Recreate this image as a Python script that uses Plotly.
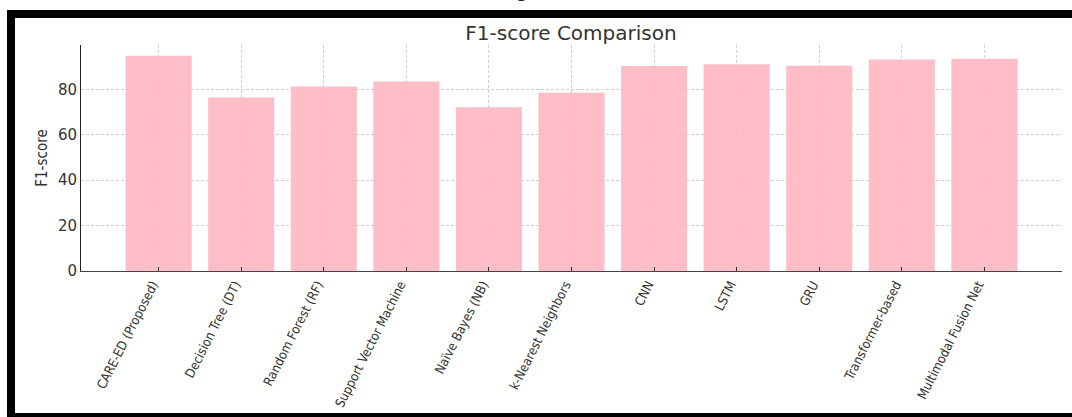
import plotly.graph_objects as go

# F1-scores of the compared emotion-detection models
models = [
    "CARE-ED (Proposed)",
    "Decision Tree (DT)",
    "Random Forest (RF)",
    "Support Vector Machine",
    "Naïve Bayes (NB)",
    "k-Nearest Neighbors",
    "CNN",
    "LSTM",
    "GRU",
    "Transformer-based",
    "Multimodal Fusion Net",
]
f1_scores = [94.8, 76.4, 81.2, 83.4, 72.1, 78.5, 90.3, 91.0, 90.4, 93.1, 93.4]
y_ticks = [0, 20, 40, 60, 80]

W, H = 1072, 417
L, R, T, B = 81, 10, 45, 146
PW, PH = W - L - R, H - T - B


def px_x(p):
    return (p - L) / PW


def px_y(p):
    return (H - B - p) / PH


fig = go.Figure(
    go.Bar(
        x=models,
        y=f1_scores,
        marker=dict(color="rgba(255,182,193,0.9)", line=dict(width=0)),
        hoverinfo="x+y",
    )
)

grid = "#cfcfcf"
cond = "DejaVu Sans Condensed, Liberation Sans Narrow, Roboto, sans-serif"
fig.update_layout(
    width=W,
    height=H,
    margin=dict(l=L, r=R, t=T, b=B, autoexpand=False),
    paper_bgcolor="white",
    plot_bgcolor="white",
    showlegend=False,
    bargap=0.2,
    title=dict(
        text="F1-score Comparison",
        x=571 / W,
        xanchor="center",
        y=1 - 33 / H,
        yanchor="middle",
        font=dict(family="DejaVu Sans", size=20, color="#333333"),
    ),
    xaxis=dict(
        type="category",
        automargin=False,
        range=[-0.94, len(models) - 1 + 0.94],
        tickangle=-63,
        ticklabelshift=-6,
        tickfont=dict(family=cond, size=13, color="#333333"),
        showgrid=True,
        gridcolor=grid,
        griddash="3px,2px",
        gridwidth=1,
        showline=True,
        linecolor="#444444",
        linewidth=1,
        ticks="inside",
        ticklen=4,
        tickcolor="#333333",
        zeroline=False,
    ),
    yaxis=dict(
        automargin=False,
        range=[0, 99.5],
        tickvals=y_ticks,
        tickfont=dict(family="DejaVu Sans", size=15, color="#333333"),
        title=dict(
            text="F1-score",
            font=dict(family=cond, size=15, color="#333333"),
            standoff=6,
        ),
        showgrid=True,
        gridcolor=grid,
        griddash="3px,2px",
        gridwidth=1,
        showline=True,
        linecolor="#222222",
        linewidth=1,
        ticks="",
        zeroline=False,
    ),
)

# Black frame around the figure (top, left, bottom edges)
frame = dict(color="black", width=8)
fig.add_shape(type="line", xref="paper", yref="paper",
              x0=px_x(11), x1=px_x(1090), y0=px_y(14), y1=px_y(14), line=frame)
fig.add_shape(type="line", xref="paper", yref="paper",
              x0=px_x(11), x1=px_x(11), y0=px_y(10), y1=px_y(425), line=frame)
fig.add_shape(type="line", xref="paper", yref="paper",
              x0=px_x(7), x1=px_x(1090), y0=px_y(417), y1=px_y(417), line=frame)

# Caption text of the page above the frame
fig.add_annotation(
    text="g",
    xref="paper", yref="paper",
    x=px_x(521), y=px_y(3),
    xanchor="center", yanchor="bottom",
    showarrow=False,
    font=dict(family="Liberation Serif", size=22, color="black"),
)

fig.write_html("out.html")
